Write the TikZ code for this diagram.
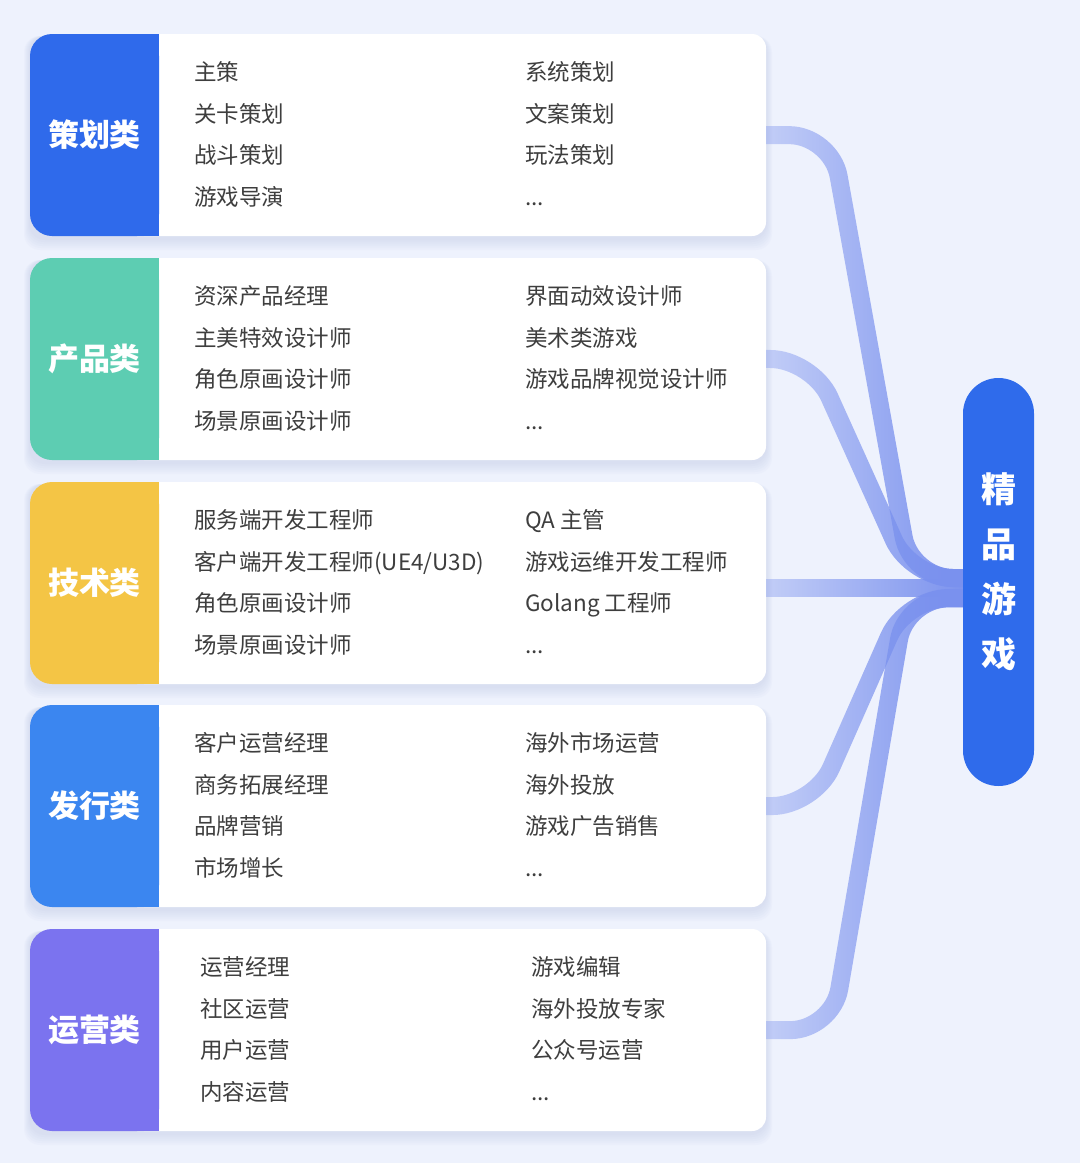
\documentclass[tikz,border=0pt]{standalone}
\usepackage{fontspec}
\setmainfont{Noto Sans CJK SC}
\usetikzlibrary{fadings}
\definecolor{cbg}{HTML}{EEF2FD}
\definecolor{cshadow}{HTML}{A9B4DE}
\definecolor{ctext}{HTML}{3E3E3E}
\definecolor{clink}{HTML}{7A91EE}
\definecolor{cpill}{HTML}{2F6BEB}
\definecolor{cplan}{HTML}{2F6AEB}
\definecolor{cprod}{HTML}{5DCDB2}
\definecolor{ctech}{HTML}{F4C545}
\definecolor{cpub}{HTML}{3B86F0}
\definecolor{cops}{HTML}{7B73EF}
\newcommand{\moredots}{...}
\tikzfading[name=linkfade, left color=transparent!65, right color=transparent!0]

\begin{document}
\begin{tikzpicture}[
  x=1pt, y=-1pt,
  card/.style={fill=white, rounded corners=14pt, minimum width=636pt,
               minimum height=202pt, inner sep=0pt},
  tab/.style={rounded corners=22pt, minimum width=129pt, minimum height=202pt,
              inner sep=0pt, text=white, font=\fontsize{31}{31}\selectfont\bfseries},
  item/.style={anchor=base west, inner sep=0pt, text=ctext,
               font=\fontsize{22.5}{22.5}\selectfont},
  pill/.style={fill=cpill, rounded corners=35.5pt, minimum width=71pt,
               minimum height=408pt, inner sep=0pt},
  pilltxt/.style={text=white, align=center, inner sep=0pt,
                  font=\fontsize{35}{55}\selectfont\bfseries},
  link/.style={draw=clink, line width=18pt, rounded corners=42pt,
               path fading=linkfade},
  ]
\fill[cbg] (0,0) rectangle (1080,1163);

% five job cards
\foreach \n/\t/\cc/\lab/\xl/\xr/\l/\r in {
  1/34/cplan/策划类/194/525/{主策,关卡策划,战斗策划,游戏导演}/{系统策划,文案策划,玩法策划,\moredots},
  2/258/cprod/产品类/194/525/{资深产品经理,主美特效设计师,角色原画设计师,场景原画设计师}/{界面动效设计师,美术类游戏,游戏品牌视觉设计师,\moredots},
  3/482/ctech/技术类/194/525/{服务端开发工程师,客户端开发工程师(UE4/U3D),角色原画设计师,场景原画设计师}/{QA 主管,游戏运维开发工程师,Golang 工程师,\moredots},
  4/705/cpub/发行类/194/525/{客户运营经理,商务拓展经理,品牌营销,市场增长}/{海外市场运营,海外投放,游戏广告销售,\moredots},
  5/929/cops/运营类/200/531/{运营经理,社区运营,用户运营,内容运营}/{游戏编辑,海外投放专家,公众号运营,\moredots}} {
  \foreach \k in {1,2,3,4,5,6}
    \fill[cshadow, opacity=.05, rounded corners=16pt]
      (30-\k, \t+2) rectangle (766+\k, \t+204+2*\k);
  \node[card] (card\n) at (448, \t+101) {};
  \fill[\cc] (95,\t) rectangle (159,\t+202);
  \node[tab, fill=\cc] (tab\n) at (94.5, \t+101) {\lab};
  \foreach \s [count=\i from 0] in \l
    \node[item] (it\n l\i) at (\xl, \t+46.5+41.5*\i) {\s};
  \foreach \s [count=\i from 0] in \r
    \node[item] (it\n r\i) at (\xr, \t+46.5+41.5*\i) {\s};
}

\node[pill] (pill) at (998.5,582) {};
\node[pilltxt] (pilltxt) at (998.5,572) {精\\品\\游\\戏};

% connectors into the pill
\coordinate (mtop) at (911,578);
\coordinate (mmid) at (911,588);
\coordinate (mbot) at (906,598);
\draw[link] (card1.east) -- ++(65,0) -- (mtop) -- (pill.west |- mtop);
\draw[link] (card2.east) -- ++(46,0) -- (mtop) -- (pill.west |- mtop);
\draw[link] (card3.east |- mmid) -- (pill.west |- mmid);
\draw[link] (card4.east) -- ++(48,0) -- (mbot) -- (pill.west |- mbot);
\draw[link] (card5.east) -- ++(66,0) -- (mbot) -- (pill.west |- mbot);
\end{tikzpicture}
\end{document}
